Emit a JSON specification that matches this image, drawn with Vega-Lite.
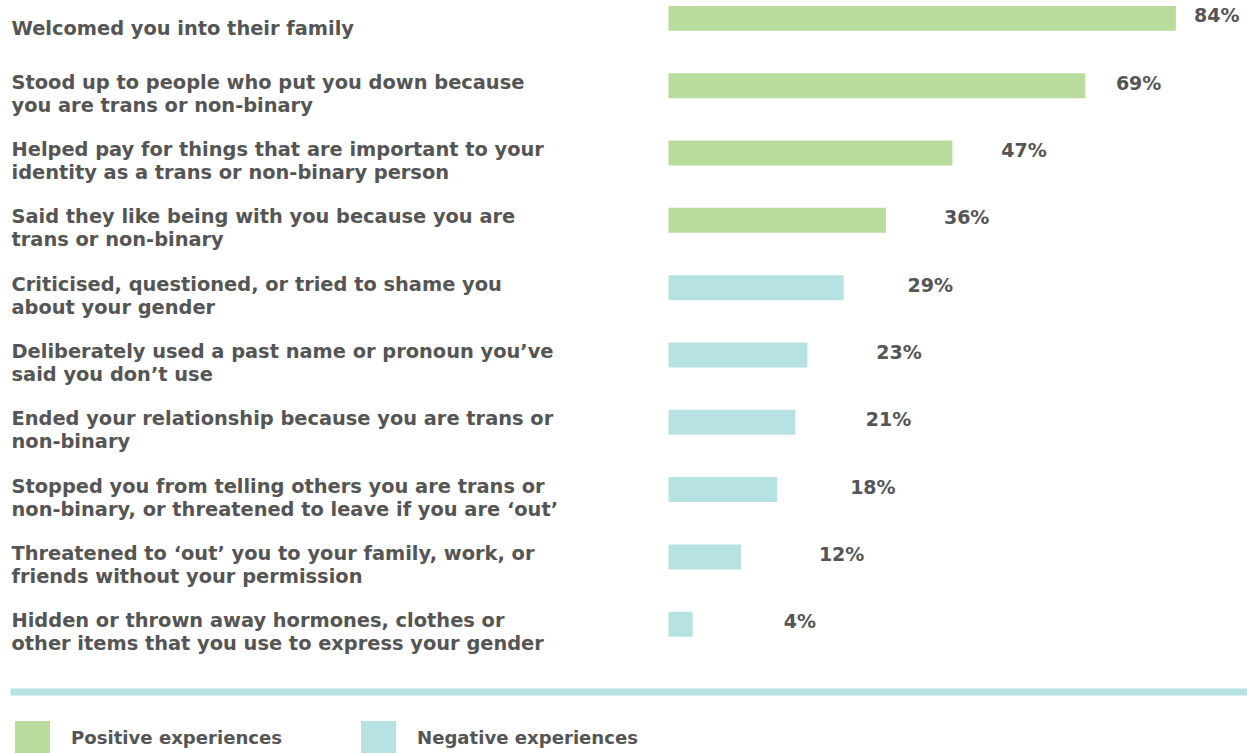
{
  "$schema": "https://vega.github.io/schema/vega-lite/v6.json",
  "width": 1237,
  "height": 642.6,
  "autosize": {"type": "none"},
  "padding": {"left": 10, "top": 0, "right": 0, "bottom": 110.4},
  "background": "white",
  "config": {"view": {"stroke": null}, "font": "DejaVu Sans"},
  "data": {
    "values": [
      {"item": "Welcomed you into their family", "value": 0.84, "type": "Positive experiences"},
      {"item": "Stood up to people who put you down because|you are trans or non-binary", "value": 0.69, "type": "Positive experiences"},
      {"item": "Helped pay for things that are important to your|identity as a trans or non-binary person", "value": 0.47, "type": "Positive experiences"},
      {"item": "Said they like being with you because you are|trans or non-binary", "value": 0.36, "type": "Positive experiences"},
      {"item": "Criticised, questioned, or tried to shame you|about your gender", "value": 0.29, "type": "Negative experiences"},
      {"item": "Deliberately used a past name or pronoun you’ve|said you don’t use", "value": 0.23, "type": "Negative experiences"},
      {"item": "Ended your relationship because you are trans or|non-binary", "value": 0.21, "type": "Negative experiences"},
      {"item": "Stopped you from telling others you are trans or|non-binary, or threatened to leave if you are ‘out’", "value": 0.18, "type": "Negative experiences"},
      {"item": "Threatened to ‘out’ you to your family, work, or|friends without your permission", "value": 0.12, "type": "Negative experiences"},
      {"item": "Hidden or thrown away hormones, clothes or|other items that you use to express your gender", "value": 0.04, "type": "Negative experiences"}
    ]
  },
  "encoding": {
    "y": {
      "field": "item",
      "type": "nominal",
      "sort": null,
      "scale": {"paddingInner": 0.6291, "paddingOuter": 0.0876},
      "axis": {
        "title": null,
        "domain": false,
        "ticks": false,
        "labelAlign": "left",
        "labelPadding": -1,
        "labelExpr": "split(datum.label, '|')",
        "labelFont": "DejaVu Sans",
        "labelFontSize": 19.4,
        "labelFontWeight": "bold",
        "labelColor": "#555555",
        "labelLineHeight": 23,
        "labelLimit": 0,
        "labelOffset": {"condition": {"test": "indexof(datum.value, '|') < 0", "value": 11}, "value": -3}
      }
    }
  },
  "layer": [
    {
      "mark": {"type": "bar"},
      "encoding": {
        "x": {
          "field": "value",
          "type": "quantitative",
          "scale": {"domain": [-1.0902, 0.9578], "nice": false, "zero": false},
          "axis": {
            "orient": "bottom",
            "offset": 49,
            "domainColor": "#b7e2e3",
            "domainWidth": 7,
            "labels": false,
            "ticks": false,
            "grid": false,
            "title": null
          }
        },
        "x2": {"datum": 0},
        "color": {
          "field": "type",
          "type": "nominal",
          "scale": {
            "domain": ["Positive experiences", "Negative experiences"],
            "range": ["#b9dc9c", "#b7e2e3"]
          },
          "legend": {
            "orient": "none",
            "legendX": 5,
            "legendY": 721,
            "direction": "horizontal",
            "title": null,
            "symbolType": "square",
            "symbolSize": 1225,
            "symbolStrokeWidth": 0,
            "symbolOpacity": 1,
            "labelFont": "DejaVu Sans",
            "labelFontSize": 18.1,
            "labelFontWeight": "bold",
            "labelColor": "#555555",
            "labelOffset": 21,
            "columnPadding": 78,
            "padding": 0,
            "labelLimit": 0
          }
        }
      }
    },
    {
      "mark": {
        "type": "text",
        "font": "DejaVu Sans",
        "fontSize": 19,
        "fontWeight": "bold",
        "color": "#555555",
        "align": "center",
        "baseline": "middle",
        "dy": -2
      },
      "encoding": {
        "x": {
          "field": "value",
          "type": "quantitative",
          "scale": {"domain": [-1.476, 0.898], "nice": false, "zero": false},
          "axis": null
        },
        "text": {"field": "value", "type": "quantitative", "format": ".0%"}
      }
    }
  ],
  "resolve": {"scale": {"x": "independent"}}
}
